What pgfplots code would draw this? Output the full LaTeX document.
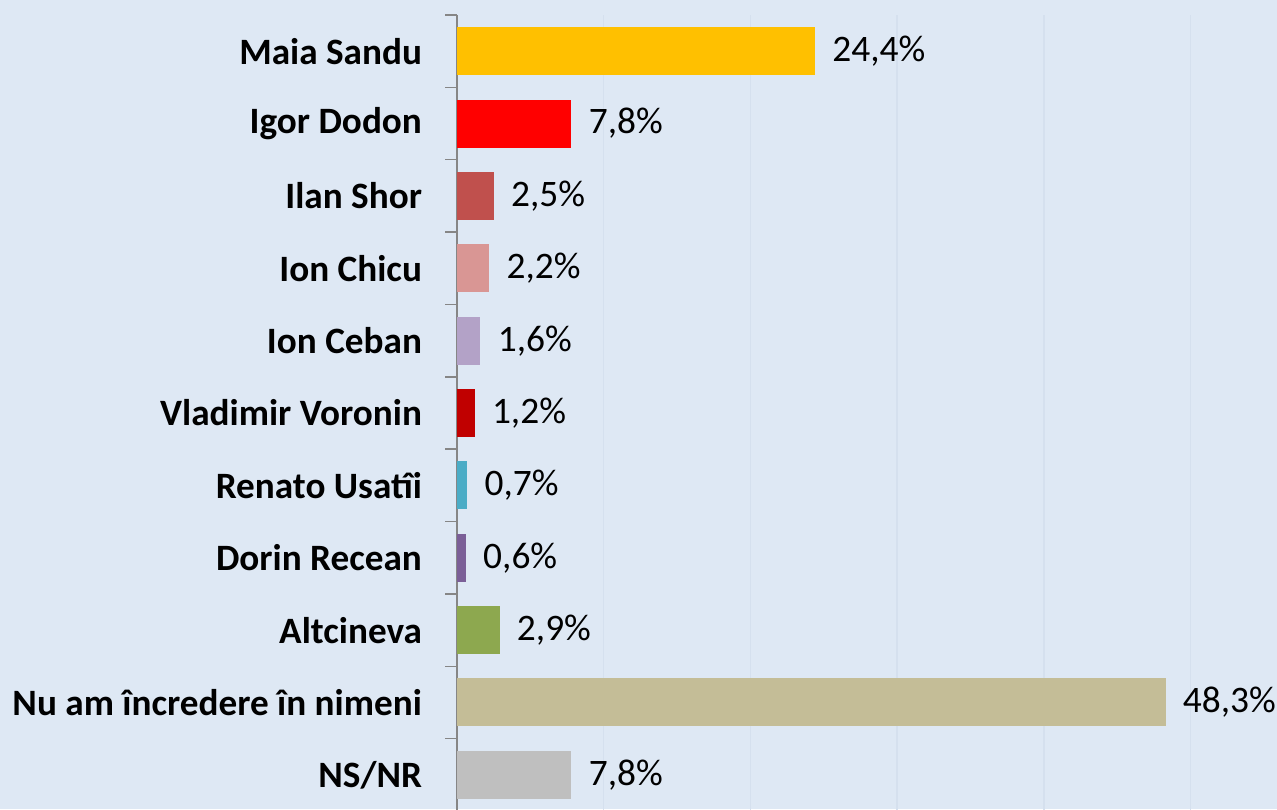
\documentclass[border=0pt]{standalone}
\usepackage{pgfplots}
\pgfplotsset{compat=1.18}
\usepackage{fontspec}
\setmainfont{Carlito}
\definecolor{bg}{HTML}{DEE8F4}
\definecolor{gridc}{HTML}{D5E0EE}
\definecolor{axisgray}{HTML}{868686}
\definecolor{c1}{HTML}{FFC000}
\definecolor{c2}{HTML}{FF0000}
\definecolor{c3}{HTML}{C0504D}
\definecolor{c4}{HTML}{D99694}
\definecolor{c5}{HTML}{B3A2C7}
\definecolor{c6}{HTML}{C00000}
\definecolor{c7}{HTML}{4BACC6}
\definecolor{c8}{HTML}{7B5F97}
\definecolor{c9}{HTML}{8DA84F}
\definecolor{c10}{HTML}{C4BD97}
\definecolor{c11}{HTML}{BFBFBF}
\begin{document}
\begin{tikzpicture}
\useasboundingbox (0,0) rectangle (638.5pt,404.5pt);
\fill[bg] (0,0) rectangle (638.5pt,404.5pt);
\clip (0,0) rectangle (638.5pt,404.5pt);
\begin{axis}[
  at={(228.5pt,-1pt)}, anchor=south west,
  scale only axis, width=410pt, height=398pt,
  xmin=0, xmax=55.9, ymin=-0.5, ymax=10.5, y dir=reverse,
  xbar, bar width=24pt, bar shift=0pt,
  axis lines*=left,
  x axis line style={draw=none},
  y axis line style={draw=axisgray, line width=0.75pt},
  xtick={10,20,30,40,50}, xticklabels={},
  xmajorgrids, grid style={draw=gridc, line width=0.8pt},
  major tick length=0pt,
  ytick={0,...,10},
  yticklabels={Maia Sandu, Igor Dodon, Ilan Shor, Ion Chicu, Ion Ceban, Vladimir Voronin, Renato Usatîi, Dorin Recean, Altcineva, Nu am încredere în nimeni, NS/NR},
  minor ytick={-0.5,0.5,...,10.5},
  minor y tick style={draw=axisgray, line width=0.75pt},
  minor tick length=6pt, tick align=outside,
  yticklabel style={font=\fontsize{18.6}{22}\selectfont\bfseries, xshift=-14pt},
  point meta=x,
  /pgf/number format/.cd, use comma, fixed, fixed zerofill, precision=1, assume math mode=true,
  /pgfplots/.cd,
  nodes near coords={\pgfmathprintnumber{\pgfplotspointmeta}\%},
  every node near coord/.append style={font=\fontsize{18.7}{22}\selectfont, anchor=west, inner sep=0pt, xshift=8.5pt, text=black},
]
\addplot[fill=c1, draw=none] coordinates {(24.4,0)};
\addplot[fill=c2, draw=none] coordinates {(7.8,1)};
\addplot[fill=c3, draw=none] coordinates {(2.5,2)};
\addplot[fill=c4, draw=none] coordinates {(2.2,3)};
\addplot[fill=c5, draw=none] coordinates {(1.6,4)};
\addplot[fill=c6, draw=none] coordinates {(1.2,5)};
\addplot[fill=c7, draw=none] coordinates {(0.7,6)};
\addplot[fill=c8, draw=none] coordinates {(0.6,7)};
\addplot[fill=c9, draw=none] coordinates {(2.9,8)};
\addplot[fill=c10, draw=none] coordinates {(48.3,9)};
\addplot[fill=c11, draw=none] coordinates {(7.8,10)};
\end{axis}
\end{tikzpicture}
\end{document}
